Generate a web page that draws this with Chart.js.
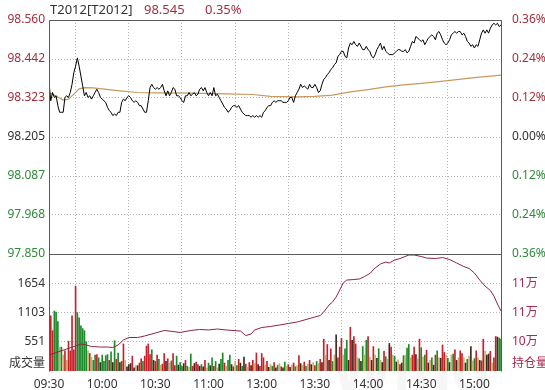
<!DOCTYPE html>
<html>
<head>
<meta charset="utf-8">
<script src="https://cdn.jsdelivr.net/npm/chart.js@4.4.0/dist/chart.umd.min.js"></script>
<style>
  html, body { margin: 0; padding: 0; background: #fff; }
  #wrap { width: 545px; height: 390px; }
</style>
</head>
<body>
<div id="wrap"><canvas id="c" width="545" height="390"></canvas></div>
<script>
const code = 'T2012[T2012]';
const preClose = 98.205;
const priceMin = 97.850, priceMax = 98.560;
const pctLimit = 0.36;
const volMax = 2205;
const oiMin = 100000, oiMax = 116000;

const timeLabels = ['09:30', '10:00', '10:30', '11:00', '13:00', '13:30', '14:00', '14:30', '15:00'];

// one price per minute, 09:30 .. 11:30 + 13:00 .. 15:15
const prices = [
    98.370, 98.315, 98.340, 98.325, 98.330, 98.300, 98.280, 98.280, 98.280, 98.325,
    98.330, 98.325, 98.340, 98.365, 98.400, 98.420, 98.445, 98.420, 98.390, 98.360,
    98.330, 98.340, 98.325, 98.330, 98.320, 98.330, 98.340, 98.350, 98.340, 98.325,
    98.320, 98.315, 98.310, 98.295, 98.285, 98.280, 98.270, 98.275, 98.270, 98.280,
    98.280, 98.310, 98.320, 98.315, 98.325, 98.330, 98.325, 98.315, 98.310, 98.315,
    98.310, 98.300, 98.300, 98.290, 98.280, 98.280, 98.315, 98.355, 98.365, 98.355,
    98.350, 98.355, 98.350, 98.355, 98.365, 98.345, 98.330, 98.345, 98.330, 98.340,
    98.355, 98.350, 98.330, 98.330, 98.325, 98.315, 98.310, 98.330, 98.330, 98.340,
    98.330, 98.335, 98.340, 98.330, 98.335, 98.350, 98.355, 98.345, 98.355, 98.340,
    98.330, 98.340, 98.330, 98.355, 98.330, 98.335, 98.325, 98.315, 98.305, 98.295,
    98.290, 98.280, 98.285, 98.295, 98.300, 98.300, 98.295, 98.300, 98.290, 98.280,
    98.275, 98.270, 98.270, 98.270, 98.265, 98.270, 98.265, 98.270, 98.265, 98.270,
    98.265, 98.280, 98.285, 98.295, 98.300, 98.300, 98.310, 98.315, 98.310, 98.315,
    98.315, 98.315, 98.310, 98.310, 98.310, 98.315, 98.325, 98.325, 98.310, 98.330,
    98.340, 98.350, 98.365, 98.355, 98.360, 98.355, 98.350, 98.365, 98.355, 98.355,
    98.365, 98.355, 98.340, 98.345, 98.365, 98.380, 98.385, 98.395, 98.400, 98.410,
    98.415, 98.425, 98.430, 98.450, 98.455, 98.465, 98.465, 98.450, 98.445, 98.475,
    98.490, 98.485, 98.495, 98.485, 98.480, 98.490, 98.480, 98.470, 98.470, 98.480,
    98.470, 98.465, 98.450, 98.445, 98.455, 98.470, 98.480, 98.490, 98.470, 98.480,
    98.465, 98.460, 98.455, 98.455, 98.455, 98.460, 98.465, 98.470, 98.470, 98.465,
    98.465, 98.470, 98.460, 98.465, 98.480, 98.495, 98.490, 98.510, 98.505, 98.500,
    98.495, 98.500, 98.485, 98.495, 98.505, 98.510, 98.515, 98.510, 98.500, 98.520,
    98.525, 98.515, 98.500, 98.490, 98.485, 98.490, 98.500, 98.515, 98.520, 98.525,
    98.520, 98.525, 98.525, 98.515, 98.520, 98.510, 98.495, 98.490, 98.480, 98.485,
    98.475, 98.485, 98.480, 98.500, 98.520, 98.530, 98.520, 98.530, 98.520, 98.535,
    98.545, 98.550, 98.545, 98.550, 98.540, 98.545
];

const avgMinutes = [0, 4, 8, 11, 14, 17, 20, 25, 30, 40, 50, 60, 80, 100, 115, 125, 140, 150, 160, 170, 180, 190, 200, 210, 220, 230, 240, 255];
const avgPrices = [98.339, 98.329, 98.317, 98.320, 98.335, 98.351, 98.355, 98.354, 98.351, 98.345, 98.340, 98.339, 98.338, 98.336,
    98.334, 98.328, 98.327, 98.328, 98.332, 98.342, 98.349, 98.357, 98.363, 98.368, 98.373, 98.379, 98.385, 98.393];

const oiMinutes = [0, 5, 10, 15, 18, 21, 24, 29, 33, 36, 39, 42, 45, 50, 54, 58, 62, 65, 70, 74,
    80, 85, 90, 95, 100, 108, 111, 114, 116, 120, 125, 130, 135, 140, 145, 150, 153, 155, 158, 160,
    162, 164, 166, 168, 172, 175, 178, 181, 184, 187, 190, 192, 195, 198, 203, 206, 210, 213, 218, 222,
    226, 230, 234, 237, 240, 243, 246, 249, 251, 253, 255];
const oiValues = [102190, 102600, 103010, 103420, 103690, 103560, 103350, 103280, 103280, 103210,
    103560, 104240, 104580, 104580, 104790, 105060, 105330, 105540, 105400, 105270,
    105540, 105680, 105610, 105740, 105610, 105470, 104850, 105060, 105610, 105950,
    106090, 106290, 106500, 106700, 107040, 107380, 107590, 108070, 109030, 109440,
    110120, 111080, 112030, 112440, 112510, 112580, 112920, 113330, 114090, 114630,
    114910, 114770, 115180, 115380, 115860, 115860, 115660, 115450, 115380, 115520,
    115250, 114770, 114290, 114020, 113400, 112440, 111620, 111010, 110260, 109160,
    108210];

const volumes = [
    2190, 1040, 760, 1130, 1110, 930, 450, 450, 300, 380,
    200, 560, 380, 1040, 400, 1600, 1100, 1000, 850, 800,
    760, 550, 380, 330, 260, 200, 300, 310, 250, 160,
    300, 180, 290, 310, 200, 360, 160, 570, 220, 340,
    160, 180, 510, 200, 80, 120, 140, 280, 60, 100,
    100, 150, 230, 180, 280, 470, 510, 310, 400, 200,
    180, 300, 220, 110, 130, 330, 180, 230, 150, 190,
    330, 100, 280, 110, 160, 90, 140, 200, 90, 70,
    320, 90, 140, 170, 120, 90, 120, 80, 200, 60,
    150, 100, 250, 90, 180, 60, 130, 220, 340, 150,
    90, 200, 300, 120, 80, 180, 100, 220, 150, 90,
    260, 130, 70, 160, 100, 200, 140, 340, 120, 90,
    330, 250, 110, 180, 70, 130, 90, 160, 60, 110,
    140, 80, 60, 170, 90, 120, 70, 110, 150, 80,
    100, 290, 140, 110, 170, 90, 130, 200, 120, 160,
    100, 180, 140, 220, 160, 600, 300, 500, 200, 420,
    180, 300, 680, 250, 450, 615, 300, 420, 580, 200,
    825, 580, 650, 510, 250, 230, 180, 460, 300, 580,
    650, 260, 200, 460, 300, 240, 420, 200, 160, 370,
    270, 220, 520, 450, 300, 280, 170, 210, 120, 150,
    290, 300, 430, 500, 250, 300, 450, 310, 230, 600,
    440, 260, 300, 390, 150, 200, 250, 110, 300, 380,
    250, 240, 490, 350, 300, 240, 160, 300, 320, 400,
    200, 250, 380, 330, 250, 150, 220, 280, 460, 190,
    230, 380, 250, 200, 190, 600, 370, 300, 320, 370,
    150, 250, 650, 640, 620, 600
];
// bar colour per minute: r up, g down, y flat, k dark
const volSides = [
    'rrrgggygyr', 'yrrrrrgggg', 'ggyryggrgk', 'ggggrgkgrg', 'krrykkkrky',
    'krrgrrrrgk', 'rrgyrrkryg', 'rrgkggkrgy', 'grkrrkgkry', 'gkgrgykggr',
    'yggkrygrkg', 'kryrkryrkr', 'rryrkygrkg', 'yrkgyrkyrg', 'yrkyrgyrky',
    'rgyrkryrkr', 'gykrrryggk', 'rkrrygkgyg', 'rykrykgykr', 'gykrygkyrk',
    'gyggyrrkyr', 'gygrkygkrg', 'ykrrygkygr', 'kyrrykgyky', 'grykrrykkr',
    'yrrkgg'
].join('').split('');

const RED = '#a3303f', GREEN = '#2f8a3a', GRAY = '#333333', OI_RED = '#a8284e';
const GRID = '#b4b4b4';
const FONT = '"Noto Sans", "Noto Sans CJK SC", sans-serif';
const barColor = { r: '#c8202a', g: '#1d8a2a', y: '#c9b26a', k: '#3a2a22' };
const labelLift = 0.06;

function signColor(v, mid) {
    if (v > mid + 1e-6) return RED;
    if (v < mid - 1e-6) return GREEN;
    return GRAY;
}

const frame = {
    id: 'frame',
    beforeDatasetsDraw(chart) {
        const { ctx, chartArea: a } = chart;
        ctx.save();
        ctx.fillStyle = 'rgba(0,0,0,0.035)';
        ctx.font = 'bold 66px "Liberation Sans", sans-serif';
        ctx.textBaseline = 'alphabetic';
        ctx.fillText('Wind', a.right - 170, a.bottom + 20);
        ctx.restore();
    },
    afterDraw(chart) {
        const { ctx, chartArea: a, scales } = chart;
        const px = v => Math.round(v) + 0.5;
        ctx.save();
        ctx.strokeStyle = '#5a5a5a';
        ctx.lineWidth = 1;
        ctx.beginPath();
        ctx.moveTo(px(a.left), px(a.bottom));
        ctx.lineTo(px(a.left), px(a.top));
        ctx.lineTo(px(a.right), px(a.top));
        ctx.lineTo(px(a.right), px(a.bottom));
        const sep = px(scales.yVol.top);
        ctx.moveTo(px(a.left), sep);
        ctx.lineTo(px(a.right), sep);
        ctx.stroke();

        const last = prices[prices.length - 1];
        const pct = (last - preClose) / preClose * 100;
        ctx.font = '13px ' + FONT;
        ctx.textBaseline = 'middle';
        ctx.fillStyle = GRAY;
        ctx.fillText(code, 50, 10);
        ctx.fillStyle = RED;
        ctx.fillText(last.toFixed(3), 144, 10);
        ctx.fillText(pct.toFixed(2) + '%', 205, 10);
        ctx.restore();
    }
};

const tickFont = { family: FONT, size: 12 };

new Chart(document.getElementById('c'), {
    type: 'line',
    data: {
        datasets: [
            {
                label: 'price',
                data: prices.map((p, i) => ({ x: i, y: p })),
                yAxisID: 'yPrice',
                borderColor: '#000',
                borderWidth: 1,
                pointRadius: 0,
                tension: 0,
                order: 1,
            },
            {
                label: 'avg',
                data: avgMinutes.map((m, i) => ({ x: m, y: avgPrices[i] })),
                yAxisID: 'yPrice',
                borderColor: '#c9985c',
                borderWidth: 1.2,
                pointRadius: 0,
                tension: 0,
                order: 2,
            },
            {
                label: 'oi',
                data: oiMinutes.map((m, i) => ({ x: m, y: oiValues[i] })),
                yAxisID: 'yOI',
                borderColor: '#8e2442',
                borderWidth: 1,
                pointRadius: 0,
                tension: 0,
                order: 1,
            },
            {
                type: 'bar',
                label: 'vol',
                data: volumes.map((v, i) => ({ x: i, y: v })),
                yAxisID: 'yVol',
                backgroundColor: volSides.map(s => barColor[s] || barColor.k),
                barThickness: 1,
                order: 3,
            },
        ]
    },
    options: {
        responsive: false,
        animation: false,
        events: [],
        layout: { padding: { top: 20, left: 0, right: 0, bottom: 0 } },
        plugins: { legend: { display: false }, tooltip: { enabled: false } },
        scales: {
            x: {
                type: 'linear', min: 0, max: prices.length - 1, offset: false,
                afterBuildTicks: s => { s.ticks = timeLabels.map((t, i) => ({ value: i * 30 })); },
                afterFit: s => { s.height = 19; },
                ticks: { autoSkip: false, maxRotation: 0, padding: 6, color: GRAY, font: tickFont,
                    callback: (v, i) => timeLabels[i] },
                grid: { drawTicks: false, color: c => (c.tick && c.tick.value === 0) ? 'rgba(0,0,0,0)' : GRID },
                border: { display: false, dash: [1, 2] },
            },
            // left stack is laid out in reverse order: the volume axis is listed first so it ends up below
            yVol: {
                type: 'linear', position: 'left', stack: 'left', stackWeight: 1,
                min: 0, max: volMax,
                afterBuildTicks: s => { s.ticks = [labelLift, 0.25, 0.5, 0.75].map(f => ({ value: volMax * f })); },
                afterFit: s => { s.width = 49; },
                ticks: { padding: 4, font: tickFont, color: GRAY,
                    callback: (v, i) => i === 0 ? '成交量' : String(Math.round(v)) },
                grid: { drawTicks: false, color: c => c.index === 0 ? 'rgba(0,0,0,0)' : GRID },
                border: { display: false, dash: [1, 2] },
            },
            yPrice: {
                type: 'linear', position: 'left', stack: 'left', stackWeight: 2,
                min: priceMin, max: priceMax,
                afterBuildTicks: s => { s.ticks = [0, 1, 2, 3, 4, 5, 6].map(i => ({ value: priceMin + i * (priceMax - priceMin) / 6 })); },
                afterFit: s => { s.width = 49; },
                ticks: { padding: 4, font: tickFont, callback: v => v.toFixed(3),
                    color: c => signColor(c.tick.value, preClose) },
                grid: { drawTicks: false, color: c => (c.index === 0 || c.index === 6) ? 'rgba(0,0,0,0)' : GRID },
                border: { display: false, dash: [1, 2] },
            },
            yPct: {
                type: 'linear', position: 'right', stack: 'right', stackWeight: 2,
                min: -pctLimit, max: pctLimit,
                afterBuildTicks: s => { s.ticks = [-3, -2, -1, 0, 1, 2, 3].map(k => ({ value: k * pctLimit / 3 })); },
                afterFit: s => { s.width = 44; },
                ticks: { padding: 3, font: tickFont, callback: v => Math.abs(v).toFixed(2) + '%',
                    color: c => signColor(c.tick.value, 0) },
                grid: { display: false },
                border: { display: false },
            },
            yOI: {
                type: 'linear', position: 'right', stack: 'right', stackWeight: 1,
                min: oiMin, max: oiMax,
                afterBuildTicks: s => { s.ticks = [labelLift, 0.25, 0.5, 0.75].map(f => ({ value: oiMin + (oiMax - oiMin) * f })); },
                afterFit: s => { s.width = 44; },
                ticks: { padding: 3, font: tickFont, color: OI_RED,
                    callback: (v, i) => i === 0 ? '持仓量' : Math.round(v / 10000) + '万' },
                grid: { display: false },
                border: { display: false },
            },
        }
    },
    plugins: [frame]
});
</script>
</body>
</html>
